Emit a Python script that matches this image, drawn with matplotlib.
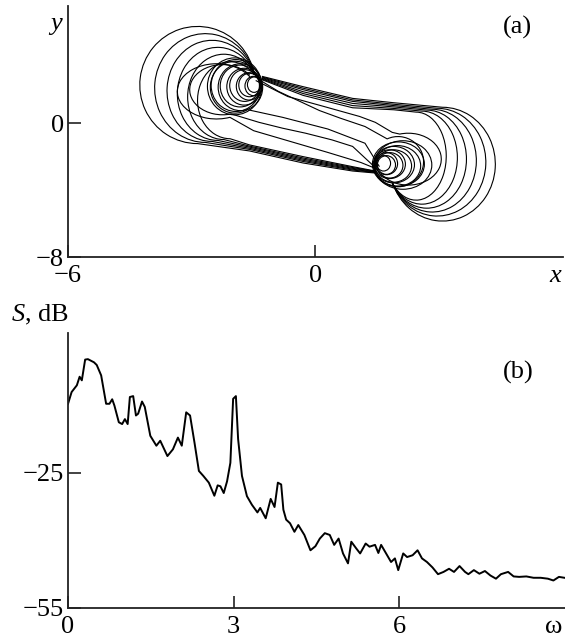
import matplotlib
matplotlib.use('Agg')
import matplotlib.pyplot as plt
from matplotlib.path import Path
from matplotlib.patches import PathPatch, Ellipse
from matplotlib.transforms import Affine2D

plt.rcParams['font.family'] = ['Liberation Serif', 'DejaVu Serif']
plt.rcParams['mathtext.fontset'] = 'custom'
plt.rcParams['mathtext.rm'] = 'Liberation Serif'
plt.rcParams['mathtext.it'] = 'Liberation Serif:italic'
plt.rcParams['font.size'] = 19

# ---------------- (a) phase portrait ----------------
# big loops of the left scroll: centre, half axes, start angle of the arc
left_cx = [-2.86, -2.67, -2.51, -2.37, -2.22, -2.07]
left_cy = [2.28, 2.10, 1.93, 1.75, 1.57, 1.37]
left_rx = [1.40, 1.23, 1.09, 0.98, 0.88, 0.79]
left_ry = [3.50, 3.25, 3.02, 2.78, 2.55, 2.30]
left_t0 = [10.6, 14.5, 19.0, 24.6, 31.5, 42.0]
# lower tube (left scroll -> right core)
lower_tube_x = [-1.6, -0.3, 0.9, 1.45]
lower_tube_y = [[-1.66, -2.38, -2.86, -2.98],
                [-1.57, -2.29, -2.80, -2.95],
                [-1.50, -2.22, -2.75, -2.93],
                [-1.43, -2.15, -2.70, -2.90],
                [-1.37, -2.08, -2.65, -2.88],
                [-1.30, -2.00, -2.60, -2.86]]

# big loops of the right scroll
right_cx = [3.08, 2.95, 2.83, 2.70, 2.58, 2.44]
right_cy = [-2.45, -2.33, -2.24, -2.15, -2.06, -1.97]
right_rx = [1.28, 1.18, 1.07, 0.96, 0.86, 0.73]
right_ry = [3.40, 3.22, 3.07, 2.93, 2.78, 2.63]
right_t0 = [199.5, 203.0, 206.0, 209.0, 213.0, 218.0]
# upper tube (right scroll -> left core)
upper_tube_x = [1.9, 0.9, -0.3, -1.3]
upper_tube_y = [[1.22, 1.48, 2.18, 2.80],
                [1.13, 1.39, 2.09, 2.76],
                [1.05, 1.30, 2.00, 2.72],
                [0.97, 1.18, 1.88, 2.68],
                [0.88, 1.05, 1.77, 2.64],
                [0.80, 0.92, 1.66, 2.60]]

# medium loops crossing the middle
mid_cx = [-2.25, -1.95, 2.25, 2.00, -2.40]
mid_cy = [2.00, 2.15, -2.15, -2.30, 1.90]
mid_rx = [0.80, 0.60, 0.80, 0.62, 0.95]
mid_ry = [1.50, 1.55, 1.55, 1.50, 1.65]
mid_t0 = [35, 45, 215, 225, 30]
mid_t1 = [285, 300, 465, 475, 290]
mid_tail_x = [[-1.37, -0.80, -0.24, 0.40, 0.90, 1.51],
              [-0.80, 0.30, 1.20, 1.55],
              [1.86, 1.45, 1.07, 0.20, -0.67, -1.45],
              [1.20, 0.60, 0.10, -0.90, -1.40],
              [-1.50, -0.60, 0.30, 1.10, 1.50]]
mid_tail_y = [[0.05, -0.30, -0.60, -1.00, -1.39, -2.79],
              [0.35, -0.35, -1.20, -2.60],
              [-0.55, 0.05, 0.40, 1.00, 1.59, 2.55],
              [-0.20, 0.30, 0.75, 1.90, 2.65],
              [-0.45, -1.10, -1.75, -2.35, -2.75]]

# small loops of the two cores
core_l_cx = [-1.96, -1.93, -1.82, -1.83, -1.73, -1.72, -1.61, -1.60, -1.50, -1.49]
core_l_cy = [2.20, 2.25, 2.15, 2.22, 2.18, 2.25, 2.20, 2.28, 2.22, 2.30]
core_l_rx = [0.66, 0.60, 0.54, 0.48, 0.42, 0.36, 0.31, 0.26, 0.21, 0.16]
core_l_ry = [1.70, 1.55, 1.40, 1.25, 1.10, 0.95, 0.82, 0.70, 0.58, 0.46]
core_r_cx = [2.12, 2.01, 1.99, 1.90, 1.89, 1.80, 1.80, 1.72, 1.72, 1.65]
core_r_cy = [-2.50, -2.45, -2.55, -2.48, -2.56, -2.45, -2.52, -2.42, -2.50, -2.40]
core_r_rx = [0.70, 0.63, 0.56, 0.50, 0.44, 0.38, 0.32, 0.27, 0.22, 0.17]
core_r_ry = [1.45, 1.33, 1.21, 1.09, 0.97, 0.86, 0.76, 0.66, 0.56, 0.46]

# ---------------- (b) spectrum ----------------
omega = [0.00, 0.065, 0.16, 0.21, 0.25, 0.31, 0.36, 0.47, 0.52, 0.60,
         0.69, 0.75, 0.80, 0.84, 0.92, 0.98, 1.03, 1.08, 1.12, 1.18,
         1.23, 1.27, 1.34, 1.39, 1.49, 1.60, 1.67, 1.80, 1.90, 1.99,
         2.06, 2.14, 2.21, 2.29, 2.37, 2.45, 2.55, 2.65, 2.71, 2.76,
         2.82, 2.88, 2.94, 2.99, 3.04, 3.08, 3.15, 3.24, 3.33, 3.43,
         3.48, 3.58, 3.67, 3.74, 3.80, 3.86, 3.90, 3.95, 4.02, 4.10,
         4.17, 4.28, 4.39, 4.48, 4.56, 4.65, 4.74, 4.82, 4.90, 4.98,
         5.07, 5.13, 5.22, 5.29, 5.39, 5.46, 5.56, 5.62, 5.67, 5.76,
         5.85, 5.92, 5.98, 6.07, 6.14, 6.24, 6.33, 6.41, 6.50, 6.60,
         6.70, 6.80, 6.90, 6.99, 7.09, 7.19, 7.25, 7.35, 7.45, 7.55,
         7.65, 7.75, 7.84, 7.97, 8.07, 8.17, 8.30, 8.43, 8.56, 8.69,
         8.79, 8.89, 8.99]
s_db = [-9.7, -7.1, -5.6, -3.7, -4.5, 0.1, 0.2, -0.5, -1.1, -3.4,
        -9.7, -9.7, -8.7, -10.1, -13.8, -14.2, -13.1, -14.2, -8.2, -8.0,
        -12.3, -11.9, -9.2, -10.4, -16.8, -19.0, -17.9, -21.3, -19.8, -17.2,
        -19.0, -11.6, -12.3, -18.3, -24.6, -25.7, -27.2, -30.1, -27.8, -28.0,
        -29.5, -26.9, -22.8, -8.6, -8.0, -17.5, -25.7, -30.2, -32.1, -33.8,
        -32.8, -35.1, -30.8, -32.6, -27.2, -27.6, -33.2, -35.4, -36.2, -38.1,
        -36.6, -38.8, -42.2, -41.3, -39.6, -38.4, -38.8, -41.0, -39.6, -42.9,
        -45.1, -40.3, -41.8, -42.9, -40.7, -41.4, -41.0, -42.8, -41.0, -42.9,
        -44.8, -44.0, -46.6, -42.9, -43.7, -43.3, -42.2, -44.0, -44.8, -46.0,
        -47.5, -47.0, -46.3, -47.0, -45.7, -47.0, -47.5, -46.6, -47.4, -46.8,
        -47.8, -48.5, -47.5, -47.0, -48.0, -48.1, -48.0, -48.3, -48.3, -48.5,
        -48.9, -48.1, -48.3]

LW_A = 0.8


def trajectory(ax, cx, cy, rx, ry, t0, t1, tail_x, tail_y):
    # arc of a loop followed by the run along the tube
    arc = Path.arc(t0, t1).transformed(Affine2D().scale(rx, ry).translate(cx, cy))
    verts = list(arc.vertices) + list(zip(tail_x, tail_y))
    codes = list(arc.codes) + [Path.LINETO] * len(tail_x)
    ax.add_patch(PathPatch(Path(verts, codes), fill=False, ec='black', lw=LW_A))


def style_axis(ax):
    for side in ['top', 'right']:
        ax.spines[side].set_visible(False)
    for side in ['left', 'bottom']:
        ax.spines[side].set_linewidth(1.3)
        ax.spines[side].set_color('#222222')
    ax.tick_params(direction='in', length=9, width=1.2, color='#222222')
    ax.tick_params(axis='x', pad=6)
    ax.tick_params(axis='y', pad=3)


fig = plt.figure(figsize=(5.65, 6.41), dpi=100)

# ---- panel (a)
ax1 = fig.add_axes([0.1204, 0.599, 0.876, 0.3916])
for i in range(len(left_cx)):
    trajectory(ax1, left_cx[i], left_cy[i], left_rx[i], left_ry[i], left_t0[i], 270,
               lower_tube_x, lower_tube_y[i])
for i in range(len(right_cx)):
    trajectory(ax1, right_cx[i], right_cy[i], right_rx[i], right_ry[i], right_t0[i], 450,
               upper_tube_x, upper_tube_y[i])
for i in range(len(mid_cx)):
    trajectory(ax1, mid_cx[i], mid_cy[i], mid_rx[i], mid_ry[i], mid_t0[i], mid_t1[i],
               mid_tail_x[i], mid_tail_y[i])
for cx, cy, rx, ry in zip(core_l_cx, core_l_cy, core_l_rx, core_l_ry):
    ax1.add_patch(Ellipse((cx, cy), 2 * rx, 2 * ry, fill=False, ec='black', lw=LW_A))
for cx, cy, rx, ry in zip(core_r_cx, core_r_cy, core_r_rx, core_r_ry):
    ax1.add_patch(Ellipse((cx, cy), 2 * rx, 2 * ry, fill=False, ec='black', lw=LW_A))

ax1.set_xlim(-6, 6)
ax1.set_ylim(-8, 7)
ax1.set_xticks([-6, 0, 5.83])
ax1.set_xticklabels(['\u22126', '0', '$x$'])
ax1.set_yticks([-8, 0, 6])
ax1.set_yticklabels(['\u22128', '0', '$y$'])
style_axis(ax1)
ax1.xaxis.get_major_ticks()[2].tick1line.set_visible(False)
ax1.yaxis.get_major_ticks()[2].tick1line.set_visible(False)
ax1.text(0.909, 0.916, '(a)', transform=ax1.transAxes, ha='center', va='center')

# ---- panel (b)
ax2 = fig.add_axes([0.1204, 0.0515, 0.8796, 0.429])
ax2.plot(omega, s_db, color='black', lw=1.4)
ax2.set_xlim(0, 9)
ax2.set_ylim(-55, 6)
ax2.set_xticks([0, 3, 6, 8.8])
ax2.set_xticklabels(['0', '3', '6', '\u03c9'])
ax2.set_yticks([-55, -25])
ax2.set_yticklabels(['\u221255', '\u221225'])
style_axis(ax2)
ax2.xaxis.get_major_ticks()[3].tick1line.set_visible(False)
ax2.text(0.905, 0.858, '(b)', transform=ax2.transAxes, ha='center', va='center')
fig.text(69 / 565, 1 - 315 / 641, '$S$, dB', ha='right', va='center')

fig.savefig('out.png', dpi=100)
